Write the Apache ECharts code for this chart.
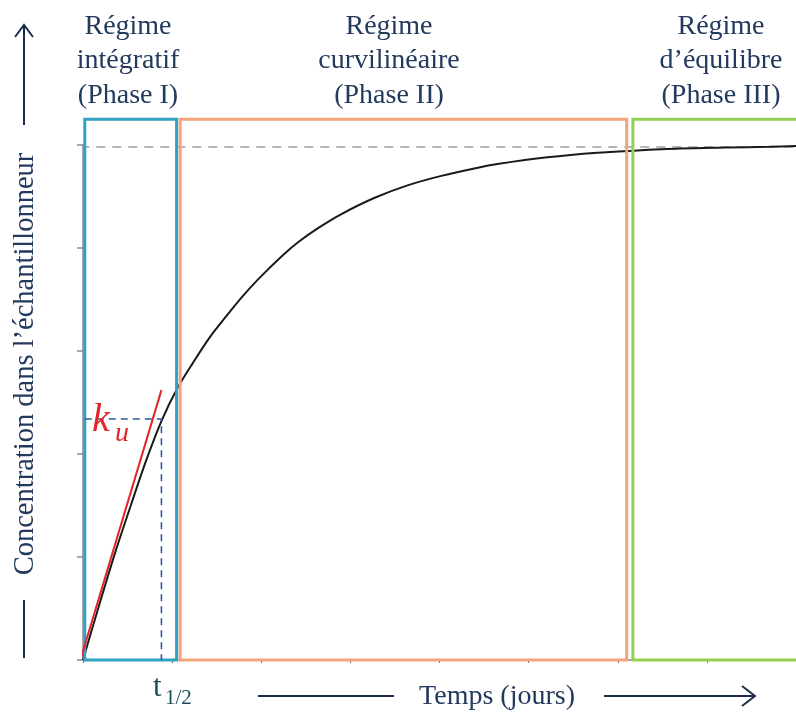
<!DOCTYPE html>
<html>
<head>
<meta charset="utf-8">
<script src="https://cdn.jsdelivr.net/npm/echarts@6/dist/echarts.min.js"></script>
<style>
html,body{margin:0;padding:0;background:#ffffff;}
#c{width:796px;height:716px;}
</style>
</head>
<body>
<div id="c"></div>
<script>
// ---- data ----
const timeDays = [0.00,0.18,0.36,0.54,0.71,0.88,1.06,1.23,1.42,1.61,1.79,1.97,2.23,2.42,2.65,2.90,3.28,3.65,4.02,4.43,4.65,5.21,5.77,6.18,6.70,7.22,7.70,8.00];
const concentration = [0.00,0.53,1.04,1.51,1.94,2.32,2.64,2.88,3.13,3.34,3.53,3.70,3.92,4.06,4.20,4.33,4.49,4.61,4.70,4.78,4.815,4.88,4.925,4.945,4.965,4.975,4.983,4.99];
const tangentX = [-0.03, 0.88];
const tangentY = [0.00, 2.62];
const halfTime = 0.88;
const halfConc = 2.34;
const halfStartX = 0.02;
const equilibrium = 4.98;
const eqStartX = -0.03;
const eqEndX = 8.0;
const phaseStart = [0.02, 1.09, 6.17];
const phaseEnd = [1.05, 6.10, 8.25];
const phaseTop = 5.25;
const phaseTitles = [
  ['Régime','intégratif','(Phase I)'],
  ['Régime','curvilinéaire','(Phase II)'],
  ['Régime','d\u2019équilibre','(Phase III)']
];
const yAxisTitle = 'Concentration dans l\u2019échantillonneur';
const xAxisTitle = 'Temps (jours)';
const halfLabel = ['t','1/2'];
const rateLabel = ['k','u'];
const xMin = 0, xMax = 8, xStep = 1;
const yMin = 0, yMax = 5, yStep = 1;

// ---- styles ----
const phaseColors = ['#2fa3c5','#f4a47a','#92d050'];
const serif = '"Liberation Serif","Times New Roman",serif';
const navy = '#23395d';
const arrowCol = '#1d2d4d';

const curveData = timeDays.map((t,i)=>[t, concentration[i]]);
const tangentData = tangentX.map((t,i)=>[t, tangentY[i]]);
const halfData = [[halfStartX, halfConc],[halfTime, halfConc],[halfTime, 0]];
const eqData = [[eqStartX, equilibrium],[eqEndX, equilibrium]];
const phaseData = phaseStart.map((s,i)=>[s, phaseEnd[i], phaseTop, i]);

const chart = echarts.init(document.getElementById('c'));
chart.setOption({
  animation:false,
  backgroundColor:'#ffffff',
  grid:{left:83, top:145, width:717, height:515},
  xAxis:{type:'value', min:xMin, max:xMax, interval:xStep,
    axisLine:{show:true, lineStyle:{color:'#8c8c8c', width:1.5}},
    axisTick:{show:true, length:3, lineStyle:{color:'#6f6f6f'}},
    axisLabel:{show:false}, splitLine:{show:false}},
  yAxis:{type:'value', min:yMin, max:yMax, interval:yStep,
    axisLine:{show:true, lineStyle:{color:'#8c8c8c', width:1.5}},
    axisTick:{show:true, length:6, lineStyle:{color:'#8c8c8c', width:1.5}},
    axisLabel:{show:false}, splitLine:{show:false}},
  series:[
    {type:'line', data:eqData, symbol:'none', z:1, clip:false,
      lineStyle:{color:'#9f9f9f', width:1.5, type:[9,7]}},
    {type:'line', data:curveData, symbol:'none', smooth:0.3, z:2,
      lineStyle:{color:'#1a1a1a', width:2}},
    {type:'custom', data:phaseData, z:3, clip:false,
      renderItem:function(params, api){
        const p0 = api.coord([api.value(0), api.value(2)]);
        const p1 = api.coord([api.value(1), 0]);
        return {type:'rect',
          shape:{x:p0[0], y:p0[1], width:p1[0]-p0[0], height:p1[1]-p0[1]},
          style:{fill:'none', stroke:phaseColors[api.value(3)], lineWidth:3}};
      }},
    {type:'line', data:halfData, symbol:'none', z:4, clip:false,
      lineStyle:{color:'#2f5aa0', width:1.6, type:[7,5]}},
    {type:'line', data:tangentData, symbol:'none', z:5, clip:false,
      lineStyle:{color:'#e3242b', width:2}}
  ],
  graphic:[
    {type:'text', x:128, y:9, z:10, style:{text:phaseTitles[0].join('\n'), font:'28px '+serif, fill:navy, textAlign:'center', textVerticalAlign:'top', lineHeight:34.5}},
    {type:'text', x:389, y:9, z:10, style:{text:phaseTitles[1].join('\n'), font:'28px '+serif, fill:navy, textAlign:'center', textVerticalAlign:'top', lineHeight:34.5}},
    {type:'text', x:721, y:9, z:10, style:{text:phaseTitles[2].join('\n'), font:'28px '+serif, fill:navy, textAlign:'center', textVerticalAlign:'top', lineHeight:34.5}},
    {type:'text', x:25.5, y:364, rotation:Math.PI/2, z:10, style:{text:yAxisTitle, font:'28.5px '+serif, fill:navy, textAlign:'center', textVerticalAlign:'middle'}},
    {type:'line', z:10, shape:{x1:24,y1:125,x2:24,y2:25}, style:{stroke:arrowCol, lineWidth:2}},
    {type:'polyline', z:10, shape:{points:[[15,37],[24,25],[33,37]]}, style:{stroke:arrowCol, lineWidth:2, fill:null}},
    {type:'line', z:10, shape:{x1:24,y1:600,x2:24,y2:658}, style:{stroke:arrowCol, lineWidth:2}},
    {type:'text', x:497, y:697, z:10, style:{text:xAxisTitle, font:'28px '+serif, fill:navy, textAlign:'center', textVerticalAlign:'middle'}},
    {type:'line', z:10, shape:{x1:258,y1:696,x2:394,y2:696}, style:{stroke:arrowCol, lineWidth:2}},
    {type:'line', z:10, shape:{x1:604,y1:696,x2:755,y2:696}, style:{stroke:arrowCol, lineWidth:2}},
    {type:'polyline', z:10, shape:{points:[[742,686],[755,696],[742,706]]}, style:{stroke:arrowCol, lineWidth:2, fill:null}},
    {type:'text', x:153, y:688, z:10, style:{text:halfLabel[0], font:'31px '+serif, fill:'#1b4d5e', textAlign:'left', textVerticalAlign:'middle'}},
    {type:'text', x:165, y:698, z:10, style:{text:halfLabel[1], font:'21px '+serif, fill:'#1b4d5e', textAlign:'left', textVerticalAlign:'middle'}},
    {type:'text', x:92, y:420, z:10, style:{text:rateLabel[0], font:'italic 40px '+serif, fill:'#e3242b', textAlign:'left', textVerticalAlign:'middle'}},
    {type:'text', x:115, y:434, z:10, style:{text:rateLabel[1], font:'italic 28px '+serif, fill:'#e3242b', textAlign:'left', textVerticalAlign:'middle'}}
  ]
});
</script>
</body>
</html>
